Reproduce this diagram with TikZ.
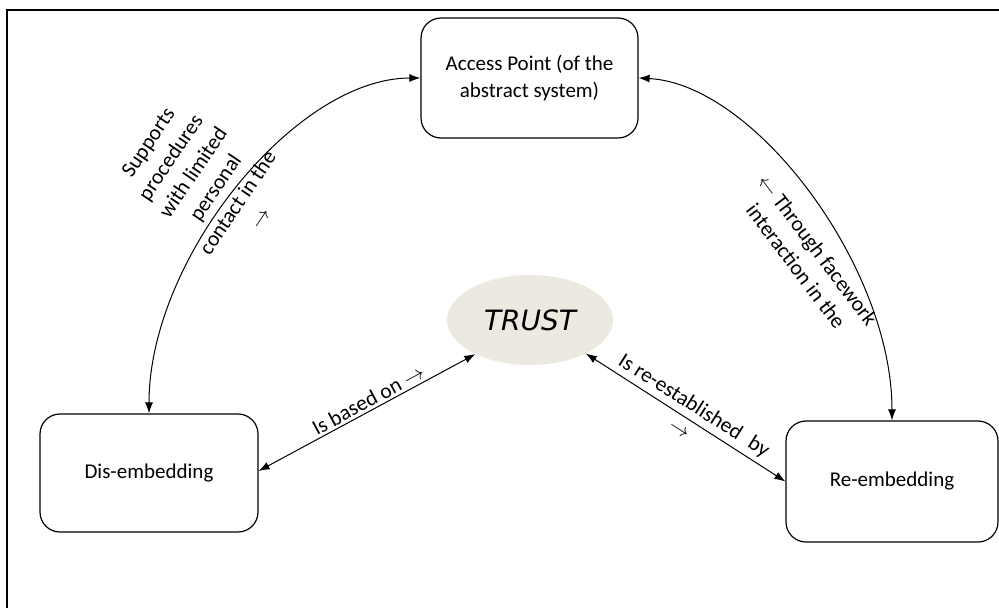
\documentclass[tikz,border=0pt]{standalone}
\usepackage{fontspec}
\setmainfont{Carlito}
\newfontfamily\trustfont{DejaVu Sans}
\usetikzlibrary{arrows.meta,shapes.geometric}
\definecolor{trustfill}{RGB}{236,234,224}
\newcommand\myrarr{$\rightarrow$}
\newcommand\mylarr{$\leftarrow$}
\begin{document}
\begin{tikzpicture}[x=1pt,y=-1pt,
  box/.style={draw, line width=1.2pt, rounded corners=20pt, align=center,
              font=\fontsize{21}{27}\selectfont, inner sep=0pt},
  conn/.style={line width=1pt, {Latex[length=11pt,width=8pt]}-{Latex[length=11pt,width=8pt]}},
  lbl/.style={align=center, font=\fontsize{21.5}{27}\selectfont, inner sep=0pt},
  frame/.style={line width=1.2pt}]
\useasboundingbox (0,0) rectangle (999,608);
% frame
\coordinate (fbl) at (7,608);
\coordinate (ftl) at (7,10);
\coordinate (ftr) at (999,10);
\draw[frame] (fbl) -- (ftl) -- (ftr);
% nodes
\node[box, minimum width=217pt, minimum height=120pt] (ap) at (529.5,78)
  {Access Point (of the\\abstract system)};
\node[box, minimum width=218pt, minimum height=118pt] (dis) at (149,473) {Dis-embedding};
\node[box, minimum width=212pt, minimum height=121pt] (re) at (892,481.5) {Re-embedding};
\node[ellipse, fill=trustfill, minimum width=166pt, minimum height=90pt, inner sep=0pt,
      font=\trustfont\itshape\fontsize{28}{32}\selectfont] (trust) at (530,320) {TRUST};
% connectors
\draw[conn] (ap.west) .. controls +(-125,0) and +(0,-155) .. (dis.north);
\draw[conn] (ap.east) .. controls +(116,6) and +(0,-154) .. (re.north);
\draw[conn] ([yshift=2pt]dis.east) -- (trust.212);
\draw[conn] (trust.329) -- (re.west);
% labels
\node[lbl, rotate=56] (l1) at (204,180)
  {Supports\\procedures\\with limited\\personal\\contact in the\\\myrarr};
\node[lbl, rotate=-53] (l2) at (807,258)
  {\mylarr\ Through facework\\interaction in the};
\node[lbl, rotate=28.4] (l3) at (368,400) {Is based on \myrarr};
\node[lbl, rotate=-32.4] (l4) at (687.5,416) {Is re-established\hspace{0.3em} by\\\myrarr};
\end{tikzpicture}
\end{document}
